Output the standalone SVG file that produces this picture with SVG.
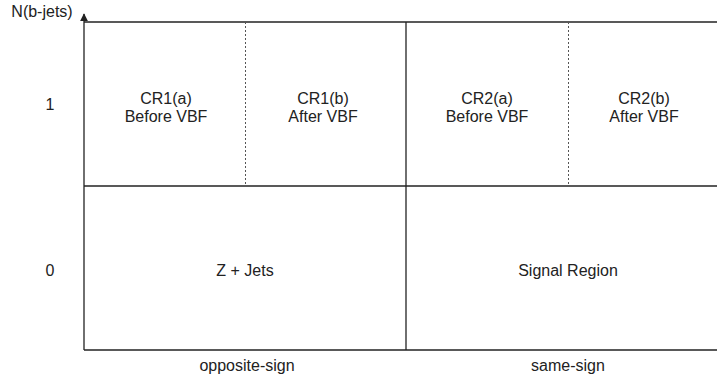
<svg xmlns="http://www.w3.org/2000/svg" width="717" height="379" viewBox="0 0 717 379">
<style>
text{font-family:"Liberation Sans",Arial,sans-serif;font-size:16px;fill:#222;text-anchor:middle}
.ln{stroke:#222;stroke-width:1.3;fill:none}
.dash{stroke:#555;stroke-width:1;stroke-dasharray:2,2;fill:none}
</style>
<defs>
<marker id="arr" viewBox="0 0 10 10" refX="9" refY="5" markerWidth="6" markerHeight="6" orient="auto">
<path d="M0,0 L10,5 L0,10 z" fill="#222"/>
</marker>
</defs>
<g id="connectors">
<line class="ln" x1="84" y1="350" x2="84" y2="14" marker-end="url(#arr)"/>
<line class="ln" x1="84" y1="350" x2="717" y2="350"/>
<line class="ln" x1="84" y1="22" x2="717" y2="22"/>
<line class="ln" x1="84" y1="186" x2="717" y2="186"/>
<line class="ln" x1="406" y1="22" x2="406" y2="350"/>
<line class="dash" x1="245.5" y1="22" x2="245.5" y2="186"/>
<line class="dash" x1="568.5" y1="22" x2="568.5" y2="186"/>
</g>
<g id="axis-labels">
<text x="42" y="17">N(b-jets)</text>
<text x="50" y="110">1</text>
<text x="50" y="276">0</text>
<text x="247" y="371">opposite-sign</text>
<text x="568" y="371">same-sign</text>
</g>
<g id="cr1a"><text x="166" y="104">CR1(a)</text><text x="166" y="122">Before VBF</text></g>
<g id="cr1b"><text x="323" y="104">CR1(b)</text><text x="323" y="122">After VBF</text></g>
<g id="cr2a"><text x="487" y="104">CR2(a)</text><text x="487" y="122">Before VBF</text></g>
<g id="cr2b"><text x="644" y="104">CR2(b)</text><text x="644" y="122">After VBF</text></g>
<g id="zjets"><text x="245" y="276">Z + Jets</text></g>
<g id="signal"><text x="568" y="276">Signal Region</text></g>
</svg>
